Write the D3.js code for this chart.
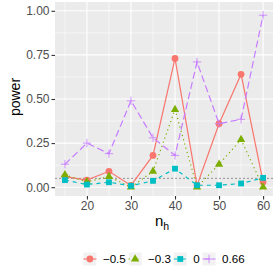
<!DOCTYPE html>
<html>
<head>
<meta charset="utf-8">
<script src="https://cdn.jsdelivr.net/npm/d3@7"></script>
<style>
  html, body { margin: 0; padding: 0; background: #fff; }
  svg { display: block; font-family: "Liberation Sans", Arial, sans-serif; }
</style>
</head>
<body>
<div id="chart"></div>
<script>
// power vs n_h for several effect sizes
const nh = [15, 20, 25, 30, 35, 40, 45, 50, 55, 60];
const seriesNames = ["−0.5", "−0.3", "0", "0.66"];
const powNeg05 = [0.06, 0.04, 0.09, 0.01, 0.18, 0.73, 0.01, 0.36, 0.64, 0.03];
const powNeg03 = [0.07, 0.03, 0.06, 0.00, 0.09, 0.44, 0.00, 0.13, 0.27, 0.00];
const pow0 = [0.04, 0.015, 0.028, 0.008, 0.036, 0.105, 0.011, 0.011, 0.021, 0.053];
const pow066 = [0.13, 0.25, 0.19, 0.49, 0.28, 0.18, 0.71, 0.36, 0.385, 0.975];
const yTicks = [0, 0.25, 0.5, 0.75, 1];
const xTicks = [20, 30, 40, 50, 60];
const refLine = 0.05;

const colors = ["#F8766D", "#7CAE00", "#00BFC4", "#C77CFF"];
const dashes = [null, "1.2,3.2", "4,4", "7,3.5"];
const shapes = [d3.symbolCircle, d3.symbolTriangle, d3.symbolSquare, "plus"];

const series = [powNeg05, powNeg03, pow0, pow066].map((vals, i) => ({
  name: seriesNames[i],
  values: vals.map((v, j) => ({ x: nh[j], y: v })),
}));

const W = 280, H = 280;
const m = { left: 55, right: 7, top: 2, bottom: 84 };

const x = d3.scaleLinear()
  .domain([15 - 2.25, 60 + 2.25])
  .range([m.left, W - m.right]);
const y = d3.scaleLinear()
  .domain([-0.05, 1.05])
  .range([H - m.bottom, m.top]);

const svg = d3.select("#chart").append("svg")
  .attr("width", W).attr("height", H);

// panel
svg.append("rect")
  .attr("x", m.left).attr("y", m.top)
  .attr("width", W - m.left - m.right).attr("height", H - m.top - m.bottom)
  .attr("fill", "#EBEBEB");

const grid = svg.append("g");
const minorY = [0.125, 0.375, 0.625, 0.875];
const minorX = [15, 25, 35, 45, 55];
grid.selectAll("line.my").data(minorY).enter().append("line")
  .attr("x1", m.left).attr("x2", W - m.right)
  .attr("y1", d => y(d)).attr("y2", d => y(d))
  .attr("stroke", "#fff").attr("stroke-width", 0.55);
grid.selectAll("line.mx").data(minorX).enter().append("line")
  .attr("y1", m.top).attr("y2", H - m.bottom)
  .attr("x1", d => x(d)).attr("x2", d => x(d))
  .attr("stroke", "#fff").attr("stroke-width", 0.55);
grid.selectAll("line.gy").data(yTicks).enter().append("line")
  .attr("x1", m.left).attr("x2", W - m.right)
  .attr("y1", d => y(d)).attr("y2", d => y(d))
  .attr("stroke", "#fff").attr("stroke-width", 1.1);
grid.selectAll("line.gx").data(xTicks).enter().append("line")
  .attr("y1", m.top).attr("y2", H - m.bottom)
  .attr("x1", d => x(d)).attr("x2", d => x(d))
  .attr("stroke", "#fff").attr("stroke-width", 1.1);

// reference line
svg.append("line")
  .attr("x1", m.left).attr("x2", W - m.right)
  .attr("y1", y(refLine)).attr("y2", y(refLine))
  .attr("stroke", "#595959").attr("stroke-width", 0.6)
  .attr("stroke-dasharray", "2,2");

const line = d3.line().x(d => x(d.x)).y(d => y(d.y));

function drawShape(g, shape, color) {
  if (shape === "plus") {
    g.append("path").attr("d", "M-4.2,0H4.2M0,-4.2V4.2")
      .attr("stroke", color).attr("stroke-width", 0.8).attr("fill", "none");
  } else {
    const size = shape === d3.symbolCircle ? 36 : shape === d3.symbolSquare ? 34 : 30;
    g.append("path").attr("d", d3.symbol().type(shape).size(size)())
      .attr("fill", color);
  }
}

series.forEach((s, i) => {
  const g = svg.append("g");
  g.append("path").datum(s.values)
    .attr("d", line)
    .attr("fill", "none")
    .attr("stroke", colors[i])
    .attr("stroke-width", 1.2)
    .attr("stroke-dasharray", dashes[i]);
  g.selectAll("g.pt").data(s.values).enter().append("g")
    .attr("transform", d => `translate(${x(d.x)},${y(d.y)})`)
    .each(function () { drawShape(d3.select(this), shapes[i], colors[i]); });
});

// axes
const yAxis = svg.append("g")
  .attr("transform", `translate(${m.left},0)`)
  .call(d3.axisLeft(y).tickValues(yTicks).tickFormat(d3.format(".2f")).tickSize(3.5).tickPadding(2));
const xAxis = svg.append("g")
  .attr("transform", `translate(0,${H - m.bottom})`)
  .call(d3.axisBottom(x).tickValues(xTicks).tickSize(3.5).tickPadding(2));
[yAxis, xAxis].forEach(a => {
  a.select(".domain").remove();
  a.selectAll(".tick line").attr("stroke", "#333").attr("stroke-width", 1.1);
  a.selectAll(".tick text").attr("fill", "#4D4D4D").attr("font-size", 12)
    .attr("font-family", "Liberation Sans, Arial, sans-serif");
});

// axis titles
const xt = svg.append("text")
  .attr("x", (m.left + W - m.right) / 2 - 2).attr("y", 226)
  .attr("text-anchor", "middle").attr("font-size", 15).attr("fill", "#000");
xt.append("tspan").text("n");
xt.append("tspan").attr("font-size", 10.5).attr("dy", 3.5).text("h");

svg.append("text")
  .attr("transform", `translate(20,${(m.top + H - m.bottom) / 2 - 2}) rotate(-90)`)
  .attr("text-anchor", "middle").attr("font-size", 14).attr("fill", "#000")
  .text("power");

// legend
const leg = svg.append("g");
const keyW = 13, legY = 259;
let cx = keyW / 2;
series.forEach((s, i) => {
  const it = leg.append("g").attr("transform", `translate(${cx},${legY})`);
  it.append("rect").attr("x", -keyW / 2).attr("y", -keyW / 2)
    .attr("width", keyW).attr("height", keyW).attr("fill", "#F2F2F2");
  it.append("line").attr("x1", -keyW / 2).attr("x2", keyW / 2)
    .attr("stroke", colors[i]).attr("stroke-width", 1.1)
    .attr("stroke-dasharray", dashes[i]);
  drawShape(it, shapes[i], colors[i]);
  const t = it.append("text").attr("x", 13).attr("y", 4.2)
    .attr("font-size", 11.6).attr("fill", "#000").text(s.name);
  cx += 13 + t.node().getComputedTextLength() + (i < series.length - 1 ? 9.3 : 0);
});
const legW = cx;
leg.attr("transform", `translate(${(m.left + W - m.right) / 2 - legW / 2},0)`);
</script>
</body>
</html>
